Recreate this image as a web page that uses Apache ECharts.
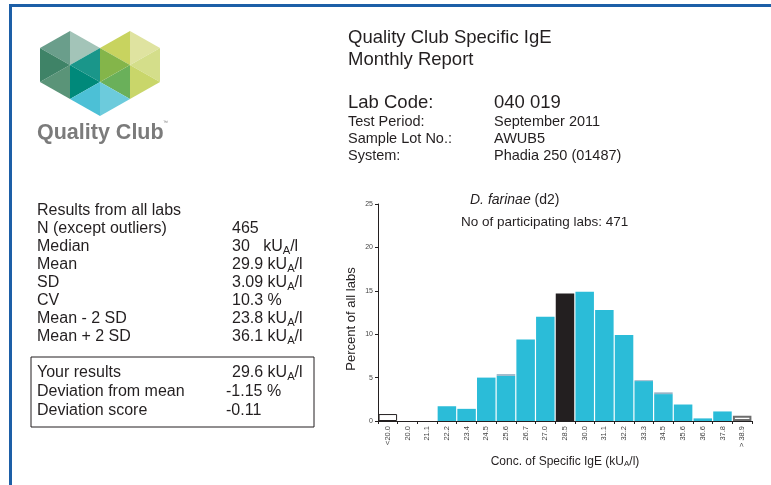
<!DOCTYPE html>
<html>
<head>
<meta charset="utf-8">
<script src="https://cdn.jsdelivr.net/npm/echarts@6/dist/echarts.min.js"></script>
<style>
  html, body { margin: 0; padding: 0; background: #fff; }
  #report { width: 771px; height: 485px; }
</style>
</head>
<body>
<div id="report"></div>
<script>
// histogram bins (kUA/l) and percent of labs per bin
var categories = ['<20.0', '20.0', '21.1', '22.2', '23.4', '24.5', '25.6', '26.7', '27.0', '28.5',
    '30.0', '31.1', '32.2', '33.3', '34.5', '35.6', '36.6', '37.8', '> 38.9'];
var percentLabs = [0.8, 0, 0, 1.7, 1.4, 5.0, 5.2, 9.4, 12.0, 14.7, 14.9, 12.8, 9.9, 4.6, 3.1, 1.9, 0.3, 1.1, 0.6];
var percentOther = [0, 0, 0, 0, 0, 0, 0.2, 0, 0, 0, 0, 0, 0, 0.1, 0.2, 0, 0, 0, 0];
var yourBin = '28.5';

var statLabels = ['Results from all labs', 'N (except outliers)', 'Median', 'Mean', 'SD', 'CV', 'Mean - 2 SD', 'Mean + 2 SD'];
var statValues = ['', '465', '30   kU{s|A}/l', '29.9 kU{s|A}/l', '3.09 kU{s|A}/l', '10.3 %', '23.8 kU{s|A}/l', '36.1 kU{s|A}/l'];
var ownLabels = ['Your results', 'Deviation from mean', 'Deviation score'];
var ownValues = ['29.6 kU{s|A}/l', '-1.15 %', '-0.11'];
var infoLabels = ['Test Period:', 'Sample Lot No.:', 'System:'];
var infoValues = ['September 2011', 'AWUB5', 'Phadia 250 (01487)'];

var reportChart = echarts.init(document.getElementById('report'));
var FONT = '"Liberation Sans", Arial, sans-serif';
var INK = '#231f20';

function txt(x, y, s, size, extra) {
    var st = {
        text: s, x: x, y: y, fill: INK, fontSize: size, fontFamily: FONT,
        verticalAlign: 'middle', align: 'left',
        rich: { s: { fontSize: size * 0.7, fontFamily: FONT, fill: INK, padding: [size * 0.45, 0, 0, 0] } }
    };
    for (var k in extra) st[k] = extra[k];
    return { type: 'text', style: st, silent: true };
}

function tri(points, color) {
    return { type: 'polygon', shape: { points: points }, style: { fill: color }, silent: true };
}

// logo: two hexagons + blue tip
var logo = [];
function hex(cx, cy, colors) {
    var top = [cx, cy - 34], ur = [cx + 30, cy - 17], lr = [cx + 30, cy + 17],
        bot = [cx, cy + 34], ll = [cx - 30, cy + 17], ul = [cx - 30, cy - 17], c = [cx, cy];
    logo.push(tri([ul, top, c], colors[0]));
    logo.push(tri([top, ur, c], colors[1]));
    logo.push(tri([ur, lr, c], colors[2]));
    logo.push(tri([lr, bot, c], colors[3]));
    logo.push(tri([bot, ll, c], colors[4]));
    logo.push(tri([ll, ul, c], colors[5]));
}
hex(70, 65, ['#6a9e8b', '#a3c4b8', '#1a968a', '#00897a', '#5a9478', '#3f8367']);
hex(130, 65, ['#c8d35f', '#dfe3a0', '#d4de8a', '#c9d66a', '#6ab05a', '#84b54a']);
logo.push(tri([[70, 99], [100, 82], [100, 116]], '#4cc0d6'));
logo.push(tri([[100, 82], [130, 99], [100, 116]], '#6ccbdc'));

var graphics = [
    { type: 'rect', shape: { x: 9, y: 4, width: 762, height: 3 }, style: { fill: '#1d5fa7' }, silent: true },
    { type: 'rect', shape: { x: 9, y: 4, width: 3, height: 481 }, style: { fill: '#1d5fa7' }, silent: true },
    txt(37, 133, 'Quality Club', 21.5, { fill: '#7b7b7b', fontWeight: 'bold' }),
    txt(163, 123, '™', 5, { fill: '#7b7b7b' }),
    txt(348, 38, 'Quality Club Specific IgE', 18.5),
    txt(348, 60, 'Monthly Report', 18.5),
    txt(348, 103, 'Lab Code:', 18.5),
    txt(494, 103, '040 019', 18.5),
    { type: 'rect', shape: { x: 31, y: 357, width: 283, height: 70 }, style: { fill: 'none', stroke: INK, lineWidth: 1 }, silent: true },
    txt(470, 200, '{i|D. farinae} (d2)', 14, { rich: { i: { fontStyle: 'italic', fontSize: 14, fontFamily: FONT, fill: INK } } }),
    txt(461, 222, 'No of participating labs: 471', 13.5),
    { type: 'text', rotation: Math.PI / 2, x: 351, y: 319, silent: true,
      style: { text: 'Percent of all labs', fontSize: 13, fontFamily: FONT, fill: INK, align: 'center', verticalAlign: 'middle' } }
].concat(logo);

infoLabels.forEach(function (l, i) {
    graphics.push(txt(348, 122 + i * 17, l, 14.5));
    graphics.push(txt(494, 122 + i * 17, infoValues[i], 14.5));
});
statLabels.forEach(function (l, i) {
    graphics.push(txt(37, 211 + i * 18, l, 16));
    if (statValues[i]) graphics.push(txt(232, 211 + i * 18, statValues[i], 16));
});
ownLabels.forEach(function (l, i) {
    graphics.push(txt(37, 373 + i * 19, l, 16));
    graphics.push(txt(i === 0 ? 232 : 226, 373 + i * 19, ownValues[i], 16));
});

var mainData = percentLabs.map(function (v, i) {
    var item = { value: v };
    if (i === 0) {
        item.itemStyle = { color: '#fff', borderColor: INK, borderWidth: 1 };
    } else if (i === categories.length - 1) {
        item.itemStyle = { color: '#fff', borderColor: '#6d6d6d', borderWidth: 2 };
    } else if (categories[i] === yourBin) {
        item.itemStyle = { color: INK };
    }
    return item;
});

var option = {
    backgroundColor: '#fff',
    animation: false,
    graphic: graphics,
    grid: { left: 378, right: 19, top: 204, bottom: 64 },
    xAxis: {
        type: 'category',
        data: categories,
        axisLine: { lineStyle: { color: INK, width: 1 } },
        axisTick: { show: true, length: 3, lineStyle: { color: INK } },
        axisLabel: { rotate: 90, fontSize: 7.5, color: '#444', fontFamily: FONT, margin: 5, interval: 0 },
        name: 'Conc. of Specific IgE (kU{s|A}/l)',
        nameLocation: 'middle',
        nameGap: 34,
        nameTextStyle: {
            fontSize: 12, color: INK, fontFamily: FONT,
            rich: { s: { fontSize: 8, color: INK, fontFamily: FONT, padding: [5, 0, 0, 0] } }
        }
    },
    yAxis: {
        type: 'value',
        min: 0, max: 25, interval: 5,
        splitLine: { show: false },
        axisLine: { show: true, lineStyle: { color: INK, width: 1 } },
        axisTick: { show: true, length: 3, lineStyle: { color: INK } },
        axisLabel: { fontSize: 7, color: '#444', fontFamily: FONT, margin: 5 }
    },
    series: [{
        name: 'labs',
        type: 'bar',
        stack: 'all',
        data: mainData,
        barCategoryGap: '6%',
        itemStyle: { color: '#2bbcd8' }
    }, {
        name: 'other',
        type: 'bar',
        stack: 'all',
        data: percentOther,
        itemStyle: { color: '#96b3c6' }
    }]
};
reportChart.setOption(option);
</script>
</body>
</html>
